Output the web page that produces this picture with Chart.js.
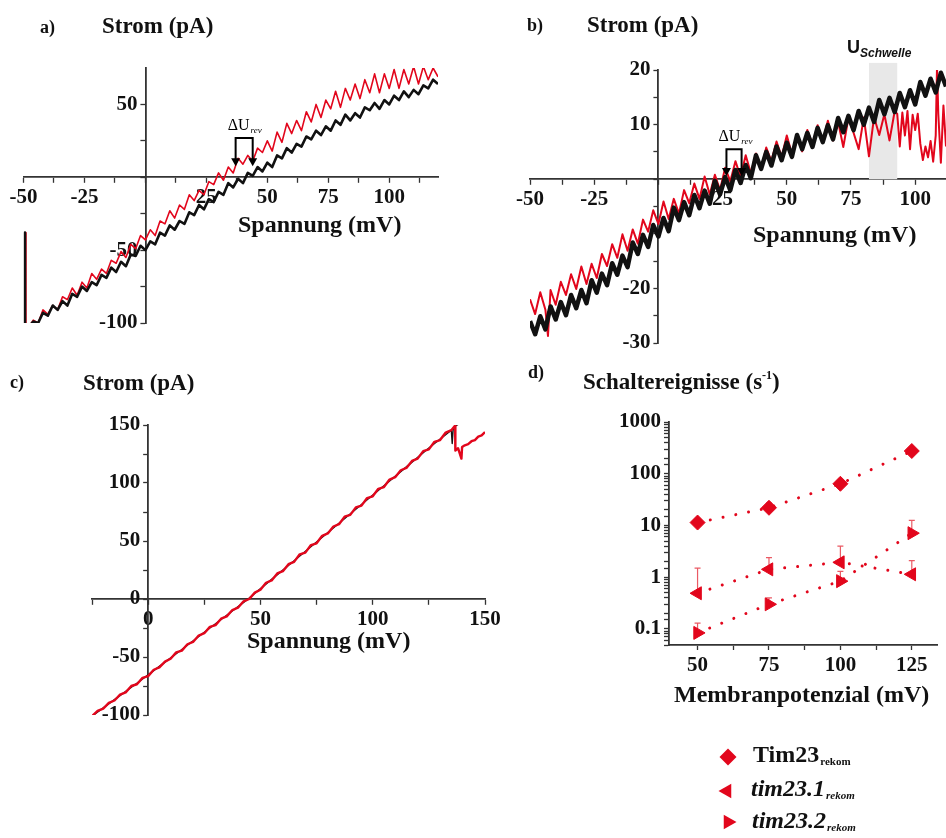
<!DOCTYPE html>
<html lang="de">
<head>
<meta charset="UTF-8">
<title>Strom-Spannungs-Kennlinien und Schaltereignisse</title>
<script src="https://cdn.jsdelivr.net/npm/chart.js"></script>
<style>
  body { margin: 0; background: #fff; }
  #page { position: relative; width: 946px; height: 838px; overflow: hidden; }
  canvas { position: absolute; }
  #chartA { left: 0; top: 0; }
  #chartB { left: 480px; top: 0; }
  #chartC { left: 0; top: 360px; }
  #chartD { left: 520px; top: 360px; }
</style>
</head>
<body>
<div id="page">
  <canvas id="chartA" width="470" height="345"></canvas>
  <canvas id="chartB" width="466" height="360"></canvas>
  <canvas id="chartC" width="505" height="372"></canvas>
  <canvas id="chartD" width="426" height="478"></canvas>
</div>
<script>
// ---------- a) Strom-Spannungs-Kurve (schwarz / rot) ----------
const aVolt = [-46,-44,-42,-40,-38,-36,-34,-32,-30,-28,-26,-24,-22,-20,-18,-16,-14,-12,-10,-8,-6,-4,-2,0,
  2,4,6,8,10,12,14,16,18,20,22,24,26,28,30,32,34,36,38,40,42,44,46,48,50,52,54,56,58,60,62,64,66,68,70,
  72,74,76,78,80,82,84,86,88,90,92,94,96,98,100,102,104,106,108,110,112,114,116,118,120];
const aBlack = [-99,-100,-93,-95,-88,-91,-85,-88,-80,-82,-75,-78,-72,-74,-67,-69,-62,-65,-58,-61,
  -53,-54,-47,-50,-44,-46,-38,-40,-33,-36,-30,-32,-24,-26,-19,-22,-15,-17,-10,-12,
  -4,-7,-1,-4,3,1,7,4,10,7,15,13,20,17,23,21,28,26,32,29,
  35,32,39,36,43,39,44,41,48,46,51,47,53,50,56,53,59,55,60,57,63,61,67,64];
const aRed = [-98,-100,-91,-94,-88,-91,-82,-84,-76,-81,-72,-76,-66,-70,-63,-66,-57,-59,-51,-55,
  -46,-49,-40,-43,-36,-40,-30,-32,-23,-28,-19,-22,-12,-16,-9,-12,-3,-5,3,-2,
  7,3,13,9,15,11,20,17,25,18,31,24,37,30,39,32,45,38,50,41,
  53,47,59,48,61,53,64,54,67,58,71,58,71,61,74,61,74,64,76,64,76,67,75,69];
// Einschaltartefakt am Anfang der Rampe
const aBlackStartV = [-49.4, -49.4, -47.5];
const aBlackStartI = [-38, -102, -102];
const aRedStartV = [-49, -49, -47.5];
const aRedStartI = [-38, -102, -102];
const aTicksX = [-50, -37.5, -25, -12.5, 0, 12.5, 25, 37.5, 50, 62.5, 75, 87.5, 100, 112.5];
const aLabelsX = ['-50', '', '-25', '', '', '', '25', '', '50', '', '75', '', '100', ''];
const aTicksY = [-100, -75, -50, -25, 0, 25, 50];
const aLabelsY = ['-100', '', '-50', '', '', '', '50'];
const aRevX = [37, 44];      // Pfeile Delta U_rev (mV)
const aRevY = [27, 7.5];     // Oberkante Klammer, Pfeilspitze (pA)

// ---------- b) Strom-Spannungs-Kurve mit Schwelle ----------
const bVolt = [-50,-48,-46,-44,-42,-40,-38,-36,-34,-32,-30,-28,-26,-24,-22,-20,-18,-16,-14,-12,-10,-8,-6,-4,-2,0,
  2,4,6,8,10,12,14,16,18,20,22,24,26,28,30,32,34,36,38,40,42,44,46,48,50,52,54,56,58,60,62,64,66,68,70,
  72,74,76,78,80,82,84,86,88,90,92,94,96,98,100,102,104,106,108,110,112];
const bBlack = [-26,-28.4,-25.1,-27.5,-23.3,-25.7,-22.5,-24.9,-21.2,-23.6,
  -20.3,-22.7,-18.5,-20.8,-17.3,-19.4,-15.4,-17.5,-14,-16.1,
  -11.6,-13.7,-10.2,-12.4,-8.4,-10.5,-7.1,-9.5,-5.2,-7.5,
  -4.2,-6.6,-2.9,-5.3,-2.1,-4.5,-0.3,-2.8,0.4,-2.0,
  1.7,-0.7,2.6,0.2,4.4,1.9,5.0,2.5,6.0,3.5,
  6.7,4.1,8.1,5.5,8.5,5.9,9.4,6.8,9.9,7.3,
  11.2,8.6,11.6,9.0,12.5,10.0,13.1,10.5,14.5,11.9,
  14.9,12.3,15.8,13.2,16.3,13.7,17.8,15.3,18.4,15.9,19.5,17.0];
const bRedVolt = [-50,-48,-46,-44,-43,-42,-40,-38,-36,-34,-32,-30,-28,-26,-24,-22,-20,-18,-16,-14,-12,-10,-8,-6,-4,-2,0,
  2,4,6,8,10,12,14,16,18,20,22,24,26,28,30,32,34,36,38,40,42,44,46,48,50,52,54,56,58,60,62,64,66,68,70,
  72,74,76,78,80,82,84,86,88,90,92,93,94,95,96,97,98,99,100,101,102,103,104,105,106,107,108,108.5,109,110,111,112];
const bRed = [-22.0,-24.7,-20.7,-23.9,-28.7,-20.3,-23.0,-18.8,-21.2,-17.4,-20.1,-16.0,-19.2,-15.5,-18.1,-13.7,
  -15.9,-11.9,-14.4,-10.1,-13.1,-9.2,-11.8,-7.4,-9.6,-5.7,-8.2,
  -4.1,-7.3,-3.6,-6.3,-2.0,-4.4,-0.8,-3.6,0.5,-2.8,0.8,-2.0,2.1,-0.4,3.3,0.4,4.4,1.1,4.7,1.8,5.8,3.3,6.9,4.1,
  8.0,4.6,8.0,5.1,9.0,6.4,9.9,6.9,10.7,7.1,10.5,
  5.9,11.2,8.5,5.5,11.3,4.2,11.4,8.1,11.9,7.1,12.4,12.0,6.0,12.2,8.0,12.5,5.5,11.8,9.0,12.0,6.5,3.5,6.0,4.0,
  7.0,3.2,8.0,20.5,12.0,3.0,13.5,6.0];
const bTicksX = [-50, -37.5, -25, -12.5, 0, 12.5, 25, 37.5, 50, 62.5, 75, 87.5, 100];
const bLabelsX = ['-50', '', '-25', '', '', '', '25', '', '50', '', '75', '', '100'];
const bTicksY = [-30, -25, -20, -15, -10, -5, 0, 5, 10, 15, 20];
const bLabelsY = ['-30', '', '-20', '', '', '', '', '', '10', '', '20'];
const bRevX = [26.5, 32.4];
const bRevY = [5.5, 0.6];
const bBandX = [82, 93];     // U_Schwelle Bereich (mV)
const bBandY = [0, 21.3];

// ---------- c) Strom-Spannungs-Kurve bis 150 mV ----------
const cRedVolt = [-25,-22.5,-20,-17.5,-15,-12.5,-10,-7.5,-5,-2.5,0,2.5,5,7.5,10,12.5,15,17.5,20,22.5,
  25,27.5,30,32.5,35,37.5,40,42.5,45,47.5,50,52.5,55,57.5,60,62.5,65,67.5,70,72.5,
  75,77.5,80,82.5,85,87.5,90,92.5,95,97.5,100,102.5,105,107.5,110,112.5,115,117.5,120,122.5,
  125,127.5,130,132.5,135,136.7,136.8,138,139.5,139.8,141,142.5,144,145.5,147,148.5,150];
const cRed = [-101,-96.5,-94.5,-89.5,-87.5,-82.5,-80.5,-75,-73.5,-68,-66.5,-61,-59,-54,-51.5,-46,-44.5,-39,-37,-31.5,
  -29.5,-24,-22.5,-17,-15,-9.5,-7.5,-2,0,5.5,8,14,16,22,24,30,32,38.5,40,46.5,
  48,54.5,56.5,62.5,64.5,71,72.5,79,80.5,87,88.5,95,96.5,103,105,111,113,119,121,127.5,
  129,135.5,137,143.5,145.5,149.5,128,130,121,131,132.5,133.5,136,137,140,141,144];
const cBlackVolt = [-25,-15,-5,5,15,25,35,45,55,65,75,85,95,105,115,125,135,135.4,135.8,136.7,138,140.3];
const cBlack = [-101,-86.8,-72.6,-58.1,-43.5,-28.7,-14.0,0.8,16.9,33.0,49.1,65.3,81.4,97.6,113.9,130.2,145.5,134,146,149,150.5,152];
const cTicksX = [-25, 0, 25, 50, 75, 100, 125, 150];
const cLabelsX = ['', '0', '', '50', '', '100', '', '150'];
const cTicksY = [-100, -75, -50, -25, 0, 25, 50, 75, 100, 125, 150];
const cLabelsY = ['-100', '', '-50', '', '0', '', '50', '', '100', '', '150'];

// ---------- d) Schaltereignisse gegen Membranpotenzial ----------
const dVolt = [50, 75, 100, 125];
const dNames = ['Tim23', 'tim23.1', 'tim23.2'];
const dTim23 = [11.4, 22, 64, 275];
const dTim231 = [0.49, 1.42, 1.94, 1.14];
const dTim232 = [0.084, 0.30, 0.84, 7.1];
const dTim23Up = [null, 27, null, null];        // obere Fehlerbalken
const dTim231Up = [1.5, 2.4, 4.0, 2.1];
const dTim232Up = [0.13, 0.4, 1.3, 12.5];
const dTicksX = [50, 62.5, 75, 87.5, 100, 112.5, 125];
const dLabelsX = ['50', '', '75', '', '100', '', '125'];

// ---------- Hilfsfunktionen ----------
const RED = '#e2061c';
const BLACK = '#111';
const SERIF = '"Liberation Serif", "Times New Roman", serif';
const SANS = '"Liberation Sans", Arial, sans-serif';

const pairs = (xs, ys) => xs.map((x, i) => ({ x, y: ys[i] }));

function axisStyle(size) {
  return {
    afterFit: scale => { if (scale.isHorizontal()) scale.height = size; else scale.width = size; },
    border: { display: true, color: '#333', width: 1.8 },
    grid: { display: true, drawOnChartArea: false, drawTicks: true, tickLength: 5, color: '#333', tickWidth: 1.3 },
  };
}

function axis(min, max, position, ticks, labels, size = 0) {
  return {
    type: 'linear', min, max, position,
    afterBuildTicks: scale => { scale.ticks = ticks.map(v => ({ value: v })); },
    ...axisStyle(size),
    ticks: {
      autoSkip: false, maxRotation: 0, padding: 3, color: BLACK,
      font: { family: SERIF, weight: 'bold', size: 21 },
      callback: (v, i) => labels[i]
    }
  };
}

// y-Achse durch den Nullpunkt der x-Achse legen (Achsenkreuz)
const yAxisAtZero = {
  id: 'yAxisAtZero',
  afterLayout(chart) {
    const { x, y } = chart.scales;
    const px = x.getPixelForValue(0);
    y.left = px - 90;
    y.right = px;
  }
};

function trace(label, xs, ys, color, width) {
  return { label, data: pairs(xs, ys), showLine: true, borderColor: color, borderWidth: width,
    borderJoinStyle: 'round', pointRadius: 0, tension: 0 };
}

// Beschriftungen (Panelbuchstabe, Achsentitel) als Text auf der Leinwand
function textLayer(items) {
  return {
    id: 'textLayer',
    afterDraw(chart) {
      const ctx = chart.ctx;
      ctx.save();
      ctx.fillStyle = BLACK;
      ctx.textAlign = 'left';
      ctx.textBaseline = 'alphabetic';
      items.forEach(item => {
        let x = item.x;
        item.parts.forEach(p => {
          ctx.font = p.font;
          ctx.fillText(p.t, x, item.y + (p.dy || 0));
          x += ctx.measureText(p.t).width;
        });
      });
      ctx.restore();
    }
  };
}
const txt = (x, y, t, font) => ({ x, y, parts: [{ t, font }] });

// Klammer mit zwei Pfeilen fuer Delta U_rev
function revMarker(xs, ys) {
  return {
    id: 'revMarker',
    afterDatasetsDraw(chart) {
      const { ctx, scales: { x, y } } = chart;
      const x1 = x.getPixelForValue(xs[0]), x2 = x.getPixelForValue(xs[1]);
      const top = y.getPixelForValue(ys[0]), tip = y.getPixelForValue(ys[1]);
      ctx.save();
      ctx.strokeStyle = '#000';
      ctx.fillStyle = '#000';
      ctx.lineWidth = 2;
      ctx.beginPath();
      ctx.moveTo(x1, tip - 6); ctx.lineTo(x1, top); ctx.lineTo(x2, top); ctx.lineTo(x2, tip - 6);
      ctx.stroke();
      [x1, x2].forEach(px => {
        ctx.beginPath();
        ctx.moveTo(px - 4.5, tip - 8); ctx.lineTo(px + 4.5, tip - 8); ctx.lineTo(px, tip);
        ctx.closePath(); ctx.fill();
      });
      ctx.font = `16px ${SERIF}`;
      ctx.fillText('\u0394U', x1 - 8, top - 8);
      const w = ctx.measureText('\u0394U').width;
      ctx.font = `italic 9px ${SERIF}`;
      ctx.fillText('rev', x1 - 8 + w + 1, top - 5);
      ctx.restore();
    }
  };
}

// grau hinterlegter Schwellenbereich
function band(xs, ys) {
  return {
    id: 'band',
    beforeDatasetsDraw(chart) {
      const { ctx, scales: { x, y } } = chart;
      const l = x.getPixelForValue(xs[0]), r = x.getPixelForValue(xs[1]);
      const b = y.getPixelForValue(ys[0]), t = y.getPixelForValue(ys[1]);
      ctx.save();
      ctx.fillStyle = '#e8e8e8';
      ctx.fillRect(l, t, r - l, b - t);
      ctx.restore();
    }
  };
}

// obere Fehlerbalken
function errorBars(xs, sets) {
  return {
    id: 'errorBars',
    beforeDatasetsDraw(chart) {
      const { ctx, scales: { x, y } } = chart;
      ctx.save();
      ctx.strokeStyle = '#ea5a64';
      ctx.lineWidth = 1.2;
      sets.forEach(([vals, ups]) => ups.forEach((u, i) => {
        if (u == null) return;
        const px = x.getPixelForValue(xs[i]);
        const y0 = y.getPixelForValue(vals[i]), y1 = y.getPixelForValue(u);
        ctx.beginPath();
        ctx.moveTo(px, y0); ctx.lineTo(px, y1);
        ctx.moveTo(px - 3, y1); ctx.lineTo(px + 3, y1);
        ctx.stroke();
      }));
      ctx.restore();
    }
  };
}

function marker(ctx, style, x, y, r) {
  ctx.beginPath();
  if (style === 'diamond') {
    ctx.moveTo(x - r, y); ctx.lineTo(x, y - r); ctx.lineTo(x + r, y); ctx.lineTo(x, y + r);
  } else {
    const d = style === 'left' ? -1 : 1;
    ctx.moveTo(x + d * r, y);
    ctx.lineTo(x - d * r / 2, y - r * 0.866);
    ctx.lineTo(x - d * r / 2, y + r * 0.866);
  }
  ctx.closePath();
  ctx.fill();
}

// Legende unter Panel d
function legendBox(entries) {
  return {
    id: 'legendBox',
    afterDraw(chart) {
      const ctx = chart.ctx;
      ctx.save();
      entries.forEach(e => {
        ctx.fillStyle = RED;
        marker(ctx, e.style, e.mx, e.my, e.r);
        ctx.fillStyle = BLACK;
        ctx.font = `${e.italic ? 'italic ' : ''}bold 24px ${SERIF}`;
        ctx.fillText(e.name, e.tx, e.ty);
        const w = ctx.measureText(e.name).width;
        ctx.font = `${e.italic ? 'italic ' : ''}bold 11px ${SERIF}`;
        ctx.fillText('rekom', e.tx + w + 1, e.ty + 3);
      });
      ctx.restore();
    }
  };
}

const common = {
  responsive: false,
  animation: false,
  events: [],
  plugins: { legend: { display: false }, tooltip: { enabled: false } }
};

// ---------- a) ----------
new Chart(document.getElementById('chartA'), {
  type: 'scatter',
  data: {
    datasets: [
      trace('schwarz', aBlackStartV.concat(aVolt), aBlackStartI.concat(aBlack), BLACK, 2.6),
      trace('rot', aRedStartV.concat(aVolt), aRedStartI.concat(aRed), RED, 1.6)
    ]
  },
  options: {
    ...common,
    layout: { padding: { left: 23.5, right: 32, top: 68, bottom: 22 } },
    scales: {
      x: axis(-50, 120, { y: 0 }, aTicksX, aLabelsX),
      y: axis(-100, 75, 'left', aTicksY, aLabelsY)
    }
  },
  plugins: [
    yAxisAtZero,
    revMarker(aRevX, aRevY),
    textLayer([
      txt(40, 33, 'a)', `bold 18px ${SERIF}`),
      txt(102, 33, 'Strom (pA)', `bold 23px ${SERIF}`),
      txt(238, 232, 'Spannung (mV)', `bold 24px ${SERIF}`)
    ])
  ]
});

// ---------- b) ----------
new Chart(document.getElementById('chartB'), {
  type: 'scatter',
  data: {
    datasets: [
      trace('schwarz', bVolt, bBlack, BLACK, 4.5),
      trace('rot', bRedVolt, bRed, RED, 2)
    ]
  },
  options: {
    ...common,
    layout: { padding: { left: 50, right: 0, top: 70, bottom: 17 } },
    scales: {
      x: axis(-50, 112, { y: 0 }, bTicksX, bLabelsX),
      y: axis(-30, 20, 'left', bTicksY, bLabelsY)
    }
  },
  plugins: [
    yAxisAtZero,
    band(bBandX, bBandY),
    revMarker(bRevX, bRevY),
    textLayer([
      txt(47, 31, 'b)', `bold 18px ${SERIF}`),
      txt(107, 32, 'Strom (pA)', `bold 23px ${SERIF}`),
      txt(273, 242, 'Spannung (mV)', `bold 24px ${SERIF}`),
      { x: 367, y: 53, parts: [{ t: 'U', font: `bold 18px ${SANS}` }, { t: 'Schwelle', font: `italic bold 12px ${SANS}`, dy: 4 }] }
    ])
  ]
});

// ---------- c) ----------
new Chart(document.getElementById('chartC'), {
  type: 'scatter',
  data: {
    datasets: [
      trace('rot', cRedVolt, cRed, RED, 2.4),
      trace('schwarz', cBlackVolt, cBlack, BLACK, 1.4)
    ]
  },
  options: {
    ...common,
    layout: { padding: { left: 92, right: 20, top: 65, bottom: 17 } },
    scales: {
      x: axis(-25, 150, { y: 0 }, cTicksX, cLabelsX),
      y: axis(-100, 150, 'left', cTicksY, cLabelsY)
    }
  },
  plugins: [
    yAxisAtZero,
    textLayer([
      txt(10, 28, 'c)', `bold 18px ${SERIF}`),
      txt(83, 30, 'Strom (pA)', `bold 23px ${SERIF}`),
      txt(247, 288, 'Spannung (mV)', `bold 24px ${SERIF}`)
    ])
  ]
});

// ---------- d) ----------
const dotted = { showLine: true, borderColor: RED, borderWidth: 3, borderDash: [0.01, 13], borderCapStyle: 'round',
  pointBackgroundColor: RED, pointBorderColor: RED, pointBorderWidth: 1 };
const dY = {
  type: 'logarithmic', min: 0.049, max: 1000, position: 'left',
  ...axisStyle(70),
  ticks: {
    autoSkip: false, padding: 3, color: BLACK,
    font: { family: SERIF, weight: 'bold', size: 21 },
    callback: v => {
      const e = Math.log10(v);
      if (Math.abs(e - Math.round(e)) > 1e-6) return '';
      return v < 1 ? v.toFixed(1) : String(Math.round(v));
    }
  }
};
new Chart(document.getElementById('chartD'), {
  type: 'scatter',
  data: {
    datasets: [
      { label: dNames[0], data: pairs(dVolt, dTim23), pointStyle: 'rectRot', pointRadius: 7.5, ...dotted },
      { label: dNames[1], data: pairs(dVolt, dTim231), pointStyle: 'triangle', pointRotation: -90, pointRadius: 7.5, ...dotted },
      { label: dNames[2], data: pairs(dVolt, dTim232), pointStyle: 'triangle', pointRotation: 90, pointRadius: 7.5, ...dotted }
    ]
  },
  options: {
    ...common,
    layout: { padding: { left: 79, right: 3, top: 62, bottom: 148 } },
    scales: {
      x: axis(40, 134, 'bottom', dTicksX, dLabelsX, 45),
      y: dY
    }
  },
  plugins: [
    errorBars(dVolt, [[dTim23, dTim23Up], [dTim231, dTim231Up], [dTim232, dTim232Up]]),
    textLayer([
      txt(8, 18, 'd)', `bold 18px ${SERIF}`),
      { x: 63, y: 29, parts: [
        { t: 'Schaltereignisse (s', font: `bold 23px ${SERIF}` },
        { t: '-1', font: `bold 12px ${SERIF}`, dy: -10 },
        { t: ')', font: `bold 23px ${SERIF}` }
      ] },
      txt(154, 342, 'Membranpotenzial (mV)', `bold 24px ${SERIF}`)
    ]),
    legendBox([
      { name: dNames[0], italic: false, style: 'diamond', r: 8.5, mx: 208, my: 397, tx: 233, ty: 402 },
      { name: dNames[1], italic: true, style: 'left', r: 8.5, mx: 207, my: 431, tx: 231, ty: 436 },
      { name: dNames[2], italic: true, style: 'right', r: 8.5, mx: 208, my: 462, tx: 232, ty: 468 }
    ])
  ]
});
</script>
</body>
</html>
